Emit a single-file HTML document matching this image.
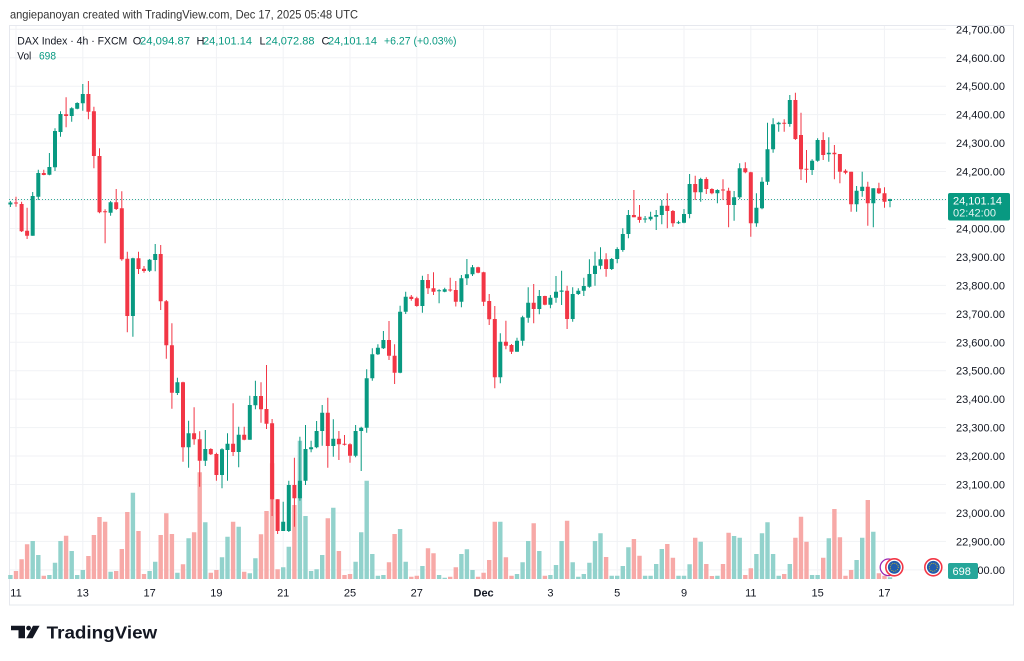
<!DOCTYPE html>
<html><head><meta charset="utf-8"><style>
html,body{margin:0;padding:0;background:#fff;}
body{width:1024px;height:661px;overflow:hidden;}
svg{display:block;font-family:"Liberation Sans",Arial,sans-serif;}
</style></head><body>
<svg width="1024" height="661" viewBox="0 0 1024 661" xmlns="http://www.w3.org/2000/svg">
<rect width="1024" height="661" fill="#fff"/>
<text x="10" y="18.5" font-size="12" fill="#333" textLength="348" lengthAdjust="spacingAndGlyphs">angiepanoyan created with TradingView.com, Dec 17, 2025 05:48 UTC</text>
<rect x="9.5" y="25.5" width="1004" height="579.5" fill="none" stroke="#e6e8ee"/>
<g stroke="#f1f2f5" stroke-width="1">
<path d="M10 29.3H946M10 57.75H946M10 86.2H946M10 114.65H946M10 143.1H946M10 171.55H946M10 200H946M10 228.45H946M10 256.9H946M10 285.35H946M10 313.8H946M10 342.25H946M10 370.7H946M10 399.15H946M10 427.6H946M10 456.05H946M10 484.5H946M10 512.95H946M10 541.4H946M10 569.85H946"/>
<path d="M16 26V580M82.8 26V580M149.6 26V580M216.4 26V580M283.2 26V580M350 26V580M416.8 26V580M483.6 26V580M550.4 26V580M617.2 26V580M684 26V580M750.8 26V580M817.6 26V580M884.4 26V580"/>
</g>
<!-- volume -->
<path fill="#92d2cc" d="M8.2 575h4.4V579h-4.4zM30.5 541h4.4V579h-4.4zM36.1 555h4.4V579h-4.4zM47.2 575h4.4V579h-4.4zM52.8 562.7h4.4V579h-4.4zM58.3 541h4.4V579h-4.4zM69.5 551h4.4V579h-4.4zM75 575h4.4V579h-4.4zM80.6 570h4.4V579h-4.4zM108.4 571.7h4.4V579h-4.4zM130.7 492.7h4.4V579h-4.4zM147.4 571h4.4V579h-4.4zM153 561.7h4.4V579h-4.4zM175.2 572.7h4.4V579h-4.4zM186.4 538.3h4.4V579h-4.4zM203.1 522.3h4.4V579h-4.4zM219.8 557.3h4.4V579h-4.4zM225.3 536.7h4.4V579h-4.4zM236.5 526.7h4.4V579h-4.4zM247.6 573.3h4.4V579h-4.4zM253.2 558.3h4.4V579h-4.4zM281 567.3h4.4V579h-4.4zM286.6 546.7h4.4V579h-4.4zM297.7 440.7h4.4V579h-4.4zM303.3 516h4.4V579h-4.4zM308.9 571h4.4V579h-4.4zM314.4 569.3h4.4V579h-4.4zM320 555h4.4V579h-4.4zM331.1 507.7h4.4V579h-4.4zM353.4 561.7h4.4V579h-4.4zM359 532.3h4.4V579h-4.4zM364.5 480.7h4.4V579h-4.4zM370.1 554h4.4V579h-4.4zM375.7 575.7h4.4V579h-4.4zM381.2 575h4.4V579h-4.4zM397.9 529h4.4V579h-4.4zM403.5 561.7h4.4V579h-4.4zM420.2 566h4.4V579h-4.4zM436.9 575h4.4V579h-4.4zM442.5 577.7h4.4V579h-4.4zM459.2 554h4.4V579h-4.4zM464.7 549.3h4.4V579h-4.4zM470.3 570h4.4V579h-4.4zM498.1 521.7h4.4V579h-4.4zM514.8 574h4.4V579h-4.4zM520.4 562.3h4.4V579h-4.4zM526 541h4.4V579h-4.4zM537.1 551h4.4V579h-4.4zM548.2 575h4.4V579h-4.4zM553.8 565h4.4V579h-4.4zM559.4 541h4.4V579h-4.4zM570.5 562.3h4.4V579h-4.4zM576.1 576.7h4.4V579h-4.4zM581.6 574h4.4V579h-4.4zM587.2 562.7h4.4V579h-4.4zM592.8 541h4.4V579h-4.4zM598.3 533.3h4.4V579h-4.4zM609.5 575.7h4.4V579h-4.4zM615 575.7h4.4V579h-4.4zM620.6 566h4.4V579h-4.4zM626.2 547.3h4.4V579h-4.4zM642.9 575.7h4.4V579h-4.4zM648.4 575.7h4.4V579h-4.4zM654 564h4.4V579h-4.4zM659.6 549h4.4V579h-4.4zM676.3 575.7h4.4V579h-4.4zM681.8 575.7h4.4V579h-4.4zM687.4 564.3h4.4V579h-4.4zM698.5 541.7h4.4V579h-4.4zM715.2 575.7h4.4V579h-4.4zM731.9 536h4.4V579h-4.4zM737.5 537.7h4.4V579h-4.4zM754.2 554h4.4V579h-4.4zM759.8 533.3h4.4V579h-4.4zM765.3 522.3h4.4V579h-4.4zM770.9 554h4.4V579h-4.4zM776.5 575.7h4.4V579h-4.4zM787.6 564h4.4V579h-4.4zM809.9 575h4.4V579h-4.4zM815.4 575h4.4V579h-4.4zM826.6 538.3h4.4V579h-4.4zM854.4 560h4.4V579h-4.4zM860 537.7h4.4V579h-4.4zM871.1 531.7h4.4V579h-4.4zM887.8 577.3h4.4V579h-4.4z"/>
<path fill="#f7a9a7" d="M13.8 571h4.4V579h-4.4zM19.4 559.3h4.4V579h-4.4zM24.9 544.3h4.4V579h-4.4zM41.6 575.7h4.4V579h-4.4zM63.9 535.7h4.4V579h-4.4zM86.2 556h4.4V579h-4.4zM91.7 535h4.4V579h-4.4zM97.3 517h4.4V579h-4.4zM102.9 521.7h4.4V579h-4.4zM114 571h4.4V579h-4.4zM119.6 549h4.4V579h-4.4zM125.1 512h4.4V579h-4.4zM136.3 531h4.4V579h-4.4zM141.8 574h4.4V579h-4.4zM158.5 535h4.4V579h-4.4zM164.1 513.3h4.4V579h-4.4zM169.7 534h4.4V579h-4.4zM180.8 564.3h4.4V579h-4.4zM191.9 532.3h4.4V579h-4.4zM197.5 472.3h4.4V579h-4.4zM208.6 572.7h4.4V579h-4.4zM214.2 570h4.4V579h-4.4zM230.9 521.7h4.4V579h-4.4zM242 571.7h4.4V579h-4.4zM258.8 534.3h4.4V579h-4.4zM264.3 511h4.4V579h-4.4zM269.9 463.3h4.4V579h-4.4zM275.4 569.3h4.4V579h-4.4zM292.2 505h4.4V579h-4.4zM325.6 518.3h4.4V579h-4.4zM336.7 551h4.4V579h-4.4zM342.3 575h4.4V579h-4.4zM347.8 574h4.4V579h-4.4zM386.8 562.3h4.4V579h-4.4zM392.4 534h4.4V579h-4.4zM409.1 576.7h4.4V579h-4.4zM414.6 575.7h4.4V579h-4.4zM425.8 548.3h4.4V579h-4.4zM431.3 553.3h4.4V579h-4.4zM448 576.7h4.4V579h-4.4zM453.6 567.3h4.4V579h-4.4zM475.9 576.7h4.4V579h-4.4zM481.4 572.7h4.4V579h-4.4zM487 560h4.4V579h-4.4zM492.6 521.7h4.4V579h-4.4zM503.7 557.3h4.4V579h-4.4zM509.3 575.7h4.4V579h-4.4zM531.5 523.3h4.4V579h-4.4zM542.7 575.7h4.4V579h-4.4zM564.9 520.7h4.4V579h-4.4zM603.9 557h4.4V579h-4.4zM631.7 539h4.4V579h-4.4zM637.3 555.7h4.4V579h-4.4zM665.1 544h4.4V579h-4.4zM670.7 557.7h4.4V579h-4.4zM693 537.7h4.4V579h-4.4zM704.1 564h4.4V579h-4.4zM709.7 576h4.4V579h-4.4zM720.8 564h4.4V579h-4.4zM726.4 532.7h4.4V579h-4.4zM743.1 575h4.4V579h-4.4zM748.6 568.3h4.4V579h-4.4zM782 574h4.4V579h-4.4zM793.2 537.7h4.4V579h-4.4zM798.8 516.7h4.4V579h-4.4zM804.3 541.7h4.4V579h-4.4zM821 557.7h4.4V579h-4.4zM832.2 509h4.4V579h-4.4zM837.7 537.3h4.4V579h-4.4zM843.3 575.7h4.4V579h-4.4zM848.9 570h4.4V579h-4.4zM865.6 500h4.4V579h-4.4zM876.7 573.3h4.4V579h-4.4zM882.3 575.7h4.4V579h-4.4z"/>
<!-- current price line -->
<line x1="9" y1="199.5" x2="947" y2="199.5" stroke="#089981" stroke-width="1" stroke-dasharray="1 2" opacity="0.8"/>
<!-- wicks -->
<path fill="none" stroke="#089981" stroke-width="1" d="M10.4 201V207M32.7 192V235.7M38.3 169.7V200M49.4 153V175.3M55 128.3V171M60.5 111.3V136.7M71.7 107.3V121.7M77.2 102.3V109.3M82.8 84V110.7M110.6 201V215.7M132.9 257.7V336.7M149.6 259V272M155.2 244V271.3M177.4 377.7V395M188.6 420.7V467.7M205.3 430V466M222 448.3V488.3M227.5 433.3V480.7M238.7 426.7V467.3M249.8 395.7V439.7M255.4 380.7V409.3M283.2 501.7V531M288.8 480.7V532M299.9 436.7V500.7M305.5 425V485M311.1 440.7V452.3M316.6 421V448.3M322.2 405V445.7M333.3 419.3V456.7M355.6 425V457.3M361.2 426.7V471M366.7 369.3V432.7M372.3 348.3V380.7M377.9 344.3V355M383.4 331V349M400.1 305.7V373.3M405.7 291.7V314M422.4 275.7V312.7M439.1 289.3V303.3M444.7 287.7V292.3M461.4 275V307.3M466.9 259V285M472.5 265V276M500.3 333.3V383.3M517 337.7V351.7M522.6 315.7V345.7M528.2 287.3V322.7M539.3 290V314.3M550.4 295V308.3M556 276V302.7M561.6 270.7V305M572.7 287.3V321.7M578.3 288.3V295M583.8 277.7V296M589.4 259.3V287.7M595 251.7V285.7M600.5 247.3V269.3M611.7 258V270M617.2 247.3V263.3M622.8 228.3V251.7M628.4 210V238.3M645.1 216V222.7M650.6 211.7V220.7M656.2 210V230M661.8 200V224.3M678.5 220.7V224M684 209V223.3M689.6 174V218.3M700.7 177.7V201.7M717.4 189.3V203.3M734.1 191V220.7M739.7 163.3V199M756.4 193.3V226.7M762 177.3V209.3M767.5 122.7V185M773.1 118.3V152.7M778.7 121.7V131.7M789.8 95V126.7M812.1 159.3V175M817.6 138.3V161.7M828.8 137.3V161.7M856.6 186V211.7M862.2 171.7V196.7M873.3 188.3V227.3M890 198.7V207.3"/>
<path fill="none" stroke="#f23645" stroke-width="1" d="M16 196.7V206.7M21.6 201.7V232M27.1 207.7V239M43.8 169.7V175.3M66.1 97.3V127.3M88.4 81V119.3M93.9 106.7V168.3M99.5 148.3V213.3M105.1 209.3V243.3M116.2 189V210M121.8 191.3V260.7M127.3 251.7V332.3M138.5 251.7V274M144 266V272.7M160.7 245V310M166.3 300V358.7M171.9 323.3V408.7M183 381.7V461.7M194.1 407.3V444.7M199.7 431.3V486.7M210.8 448.3V455M216.4 452.7V480.7M233.1 403.3V456M244.2 426.7V440.3M261 382.3V422.7M266.5 365V429M272.1 419V516M277.6 499.3V534M294.4 457.7V526.7M327.8 397.7V467.7M338.9 431V460M344.5 435V445.5M350 443.3V462.7M389 321V360M394.6 344.3V384M411.3 295V300.7M416.8 296.7V306.7M428 274V294M433.5 272.3V295M450.2 277.7V291.7M455.8 281V306.5M478.1 266.7V273.3M483.6 271.7V306M489.2 294V325M494.8 306V388.3M505.9 320.7V349.3M511.5 344V354M533.7 284V323.3M544.9 295.7V305.3M567.1 285.7V329M606.1 253.3V276.7M633.9 190V217.3M639.5 205V222.7M667.3 193.3V228.3M672.9 210V226.7M695.2 175.7V200M706.3 177.3V194M711.9 188.3V194.3M723 179.3V200M728.6 187.7V227.3M745.3 162.3V173.3M750.8 171.7V236.7M784.2 119.3V131.7M795.4 92.7V140M801 112.7V180M806.5 150V182.7M823.2 132.3V160M834.4 145V179.3M839.9 154V183.3M845.5 169.3V174.3M851.1 171.7V211.7M867.8 181.7V225.7M878.9 182.7V194M884.5 187.3V207.7"/>
<!-- bodies -->
<path fill="#089981" d="M8.4 202.5h4V204.5h-4zM30.7 196h4V235.7h-4zM36.3 173h4V196.7h-4zM47.4 167h4V174.7h-4zM53 131h4V167.3h-4zM58.5 114h4V132h-4zM69.7 108.3h4V116h-4zM75.2 103h4V108.7h-4zM80.8 94h4V103.3h-4zM108.6 202.3h4V212.7h-4zM130.9 258.3h4V316h-4zM147.6 259.7h4V270.7h-4zM153.2 254h4V260h-4zM175.4 382.3h4V393h-4zM186.6 433.3h4V447.3h-4zM203.3 449h4V460.7h-4zM220 449.3h4V475h-4zM225.5 443.7h4V450h-4zM236.7 434.7h4V452h-4zM247.8 405h4V439.7h-4zM253.4 396h4V405.3h-4zM281.2 521.7h4V531h-4zM286.8 485h4V531h-4zM297.9 480.7h4V498.3h-4zM303.5 449h4V480.7h-4zM309.1 447.3h4V449.3h-4zM314.6 431h4V447.3h-4zM320.2 412.7h4V431h-4zM331.3 438.7h4V446h-4zM353.6 431h4V455.7h-4zM359.2 427.7h4V431h-4zM364.7 378.3h4V427.7h-4zM370.3 354.3h4V378.3h-4zM375.9 347.7h4V354.3h-4zM381.4 340h4V348.3h-4zM398.1 311.7h4V372.7h-4zM403.7 296.7h4V311.7h-4zM420.4 280h4V306h-4zM437.1 290.2h4V291.2h-4zM442.7 289.3h4V291.7h-4zM459.4 278.3h4V301.7h-4zM464.9 274.3h4V278.3h-4zM470.5 267.3h4V274.3h-4zM498.3 341.7h4V377.3h-4zM515 340.7h4V351.7h-4zM520.6 317.3h4V340.7h-4zM526.2 302.7h4V317.7h-4zM537.3 296h4V309h-4zM548.4 297.7h4V304.7h-4zM554 291.7h4V297.7h-4zM559.6 290.5h4V291.7h-4zM570.7 294h4V319h-4zM576.3 290.7h4V294h-4zM581.8 286h4V290.7h-4zM587.4 274h4V286.7h-4zM593 265.7h4V274h-4zM598.5 259.3h4V265.7h-4zM609.7 259h4V269h-4zM615.2 249h4V259h-4zM620.8 234h4V250h-4zM626.4 215h4V234h-4zM643.1 218.5h4V219.5h-4zM648.6 216.7h4V219.3h-4zM654.2 215h4V216.7h-4zM659.8 205.7h4V215h-4zM676.5 222.2h4V223.2h-4zM682 214h4V222.7h-4zM687.6 184h4V214h-4zM698.7 179h4V192.3h-4zM715.4 190h4V193.3h-4zM732.1 197.3h4V205h-4zM737.7 168.3h4V197.3h-4zM754.4 207.7h4V223.3h-4zM760 181.7h4V208.3h-4zM765.5 149.3h4V181.7h-4zM771.1 124.3h4V149.3h-4zM776.7 122.7h4V124.3h-4zM787.8 100h4V124h-4zM810.1 160.7h4V170h-4zM815.6 140h4V160.7h-4zM826.8 152.7h4V154.3h-4zM854.6 190.7h4V204.3h-4zM860.2 186.7h4V191h-4zM871.3 188.3h4V203.3h-4zM888 199.2h4V201h-4z"/>
<path fill="#f23645" d="M14 202.5h4V203.5h-4zM19.6 204h4V231.3h-4zM25.1 230.7h4V235.7h-4zM41.8 173h4V175h-4zM64.1 114.3h4V116h-4zM86.4 94h4V111.7h-4zM91.9 111.3h4V156h-4zM97.5 156h4V212.3h-4zM103.1 211.2h4V212.2h-4zM114.2 202.3h4V209h-4zM119.8 208.3h4V259.3h-4zM125.3 258.7h4V316h-4zM136.5 258.3h4V269h-4zM142 268.7h4V271h-4zM158.7 254h4V301.3h-4zM164.3 301.3h4V345.3h-4zM169.9 345.3h4V392.7h-4zM181 382.3h4V447.3h-4zM192.1 433.3h4V439.3h-4zM197.7 439.3h4V460.7h-4zM208.8 449h4V454.3h-4zM214.4 454h4V475h-4zM231.1 443.7h4V452h-4zM242.2 434.7h4V439.7h-4zM259 396h4V409.3h-4zM264.5 409h4V423.7h-4zM270.1 423.3h4V499.3h-4zM275.6 499.3h4V531h-4zM292.4 485h4V498.3h-4zM325.8 412.7h4V446h-4zM336.9 438.7h4V444.3h-4zM342.5 443.8h4V444.8h-4zM348 444.3h4V455.7h-4zM387 340h4V355.7h-4zM392.6 355.7h4V372.7h-4zM409.3 296.7h4V299h-4zM414.8 298.3h4V306h-4zM426 280h4V288.3h-4zM431.5 288.3h4V291.7h-4zM448.2 289.5h4V290.5h-4zM453.8 290h4V301.7h-4zM476.1 267.3h4V272.7h-4zM481.6 272.3h4V301.7h-4zM487.2 301h4V319.3h-4zM492.8 319h4V377.3h-4zM503.9 341.7h4V345.7h-4zM509.5 345h4V351.7h-4zM531.7 302.7h4V309h-4zM542.9 296h4V304.7h-4zM565.1 290.7h4V319h-4zM604.1 259.3h4V269h-4zM631.9 215h4V217.3h-4zM637.5 216.7h4V220h-4zM665.3 205.7h4V211h-4zM670.9 211h4V223.3h-4zM693.2 184h4V192.3h-4zM704.3 179h4V189h-4zM709.9 189h4V193.3h-4zM721 189.5h4V190.5h-4zM726.6 190.7h4V205h-4zM743.3 168.3h4V172.3h-4zM748.8 172.3h4V223.3h-4zM782.2 122.8h4V123.8h-4zM793.4 100h4V139h-4zM799 135h4V169.3h-4zM804.5 168.8h4V169.8h-4zM821.2 140h4V155h-4zM832.4 152.7h4V154.3h-4zM837.9 154h4V171.7h-4zM843.5 170.7h4V172.7h-4zM849.1 171.7h4V204.3h-4zM865.8 186.7h4V203.3h-4zM876.9 188.3h4V193.3h-4zM882.5 193.3h4V201.7h-4z"/>
<!-- legend -->
<g font-size="11">
<text x="17.3" y="44.5" fill="#131722" textLength="110" lengthAdjust="spacingAndGlyphs">DAX Index · 4h · FXCM</text>
<text x="132.7" y="44.5" fill="#131722">O</text>
<text x="140" y="44.5" fill="#089981" textLength="50" lengthAdjust="spacingAndGlyphs">24,094.87</text>
<text x="196.5" y="44.5" fill="#131722">H</text>
<text x="203" y="44.5" fill="#089981" textLength="49" lengthAdjust="spacingAndGlyphs">24,101.14</text>
<text x="259.5" y="44.5" fill="#131722">L</text>
<text x="265.5" y="44.5" fill="#089981" textLength="49" lengthAdjust="spacingAndGlyphs">24,072.88</text>
<text x="321.5" y="44.5" fill="#131722">C</text>
<text x="328" y="44.5" fill="#089981" textLength="49" lengthAdjust="spacingAndGlyphs">24,101.14</text>
<text x="384" y="44.5" fill="#089981" textLength="72.5" lengthAdjust="spacingAndGlyphs">+6.27 (+0.03%)</text>
<text x="17.3" y="59.5" fill="#131722" textLength="14" lengthAdjust="spacingAndGlyphs">Vol</text>
<text x="39" y="59.5" fill="#089981" textLength="17" lengthAdjust="spacingAndGlyphs">698</text>
</g>
<!-- price axis -->
<g font-size="11" fill="#131722">
<text x="956" y="33.3">24,700.00</text>
<text x="956" y="61.75">24,600.00</text>
<text x="956" y="90.2">24,500.00</text>
<text x="956" y="118.65">24,400.00</text>
<text x="956" y="147.1">24,300.00</text>
<text x="956" y="175.55">24,200.00</text>
<text x="956" y="232.45">24,000.00</text>
<text x="956" y="260.9">23,900.00</text>
<text x="956" y="289.35">23,800.00</text>
<text x="956" y="317.8">23,700.00</text>
<text x="956" y="346.25">23,600.00</text>
<text x="956" y="374.7">23,500.00</text>
<text x="956" y="403.15">23,400.00</text>
<text x="956" y="431.6">23,300.00</text>
<text x="956" y="460.05">23,200.00</text>
<text x="956" y="488.5">23,100.00</text>
<text x="956" y="516.95">23,000.00</text>
<text x="956" y="545.4">22,900.00</text>
<text x="956" y="573.85">22,800.00</text>
</g>
<rect x="948" y="193" width="62" height="27.5" rx="2" fill="#089981"/>
<text x="953" y="204.5" font-size="11" fill="#fff" textLength="49" lengthAdjust="spacingAndGlyphs">24,101.14</text>
<text x="953" y="216.3" font-size="11" fill="#e6f5f2" textLength="43" lengthAdjust="spacingAndGlyphs">02:42:00</text>
<rect x="948" y="563" width="30" height="16" rx="2" fill="#26a69a"/>
<text x="952.5" y="575" font-size="11" fill="#fff">698</text>
<!-- event icons -->
<g>
<circle cx="888.5" cy="567.3" r="8.3" fill="#fff" stroke="#9c27b0" stroke-width="1.3"/>
<circle cx="894.3" cy="567.3" r="8.5" fill="#fff" stroke="#f23645" stroke-width="1.6"/>
<circle cx="894.3" cy="567.3" r="6.4" fill="#1f5cad"/>
<circle cx="894.3" cy="567.3" r="4" fill="none" stroke="#ffd200" stroke-width="0.9" stroke-dasharray="0.8 1.3"/>
<circle cx="933.3" cy="567.3" r="8.5" fill="#fff" stroke="#f23645" stroke-width="1.6"/>
<circle cx="933.3" cy="567.3" r="6.4" fill="#1f5cad"/>
<circle cx="933.3" cy="567.3" r="4" fill="none" stroke="#ffd200" stroke-width="0.9" stroke-dasharray="0.8 1.3"/>
</g>
<!-- time axis -->
<g font-size="11" fill="#131722" text-anchor="middle">
<text x="16" y="596.5">11</text>
<text x="82.8" y="596.5">13</text>
<text x="149.6" y="596.5">17</text>
<text x="216.4" y="596.5">19</text>
<text x="283.2" y="596.5">21</text>
<text x="350" y="596.5">25</text>
<text x="416.8" y="596.5">27</text>
<text x="483.6" y="596.5" font-weight="bold">Dec</text>
<text x="550.4" y="596.5">3</text>
<text x="617.2" y="596.5">5</text>
<text x="684" y="596.5">9</text>
<text x="750.8" y="596.5">11</text>
<text x="817.6" y="596.5">15</text>
<text x="884.4" y="596.5">17</text>
</g>
<!-- logo -->
<g fill="#131722">
<path d="M11 625.7H25V638.3H18.5V630.3H11Z"/>
<circle cx="28.6" cy="628.1" r="2.4"/>
<path d="M33 625.7H39.6L32.6 638.3H26.2Z"/>
<text x="46.7" y="638.3" font-size="17.5" font-weight="bold" textLength="110.5" lengthAdjust="spacingAndGlyphs">TradingView</text>
</g>
</svg>
</body></html>
